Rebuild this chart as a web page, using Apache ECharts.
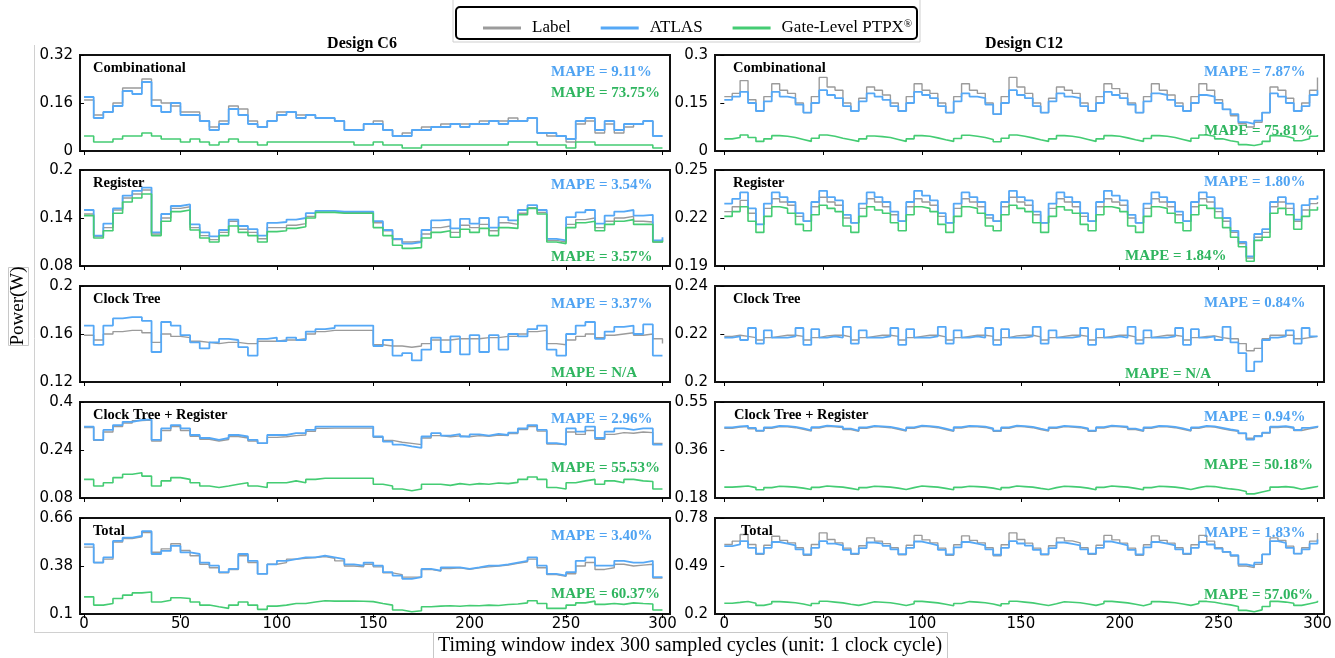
<!DOCTYPE html>
<html><head><meta charset="utf-8">
<script src="https://cdn.jsdelivr.net/npm/echarts/dist/echarts.min.js"></script>
<style>html,body{margin:0;padding:0;background:#fff}#c{width:1335px;height:658px}</style>
</head><body><div id="c"></div>
<script>
// ---------------- DATA ----------------
const xTickValues = [0, 50, 100, 150, 200, 250, 300];
const c6Step = 5;   // C6 values read every 5 cycles
const c12Step = 4;  // C12 values read every 4 cycles

// Design C6 – Combinational
const c6CombLabel = [0.17,0.12,0.13,0.16,0.21,0.21,0.24,0.17,0.16,0.15,0.13,0.13,0.10,0.08,0.10,0.15,0.14,0.10,0.08,0.10,0.13,0.13,0.12,0.12,0.11,0.11,0.10,0.07,0.07,0.09,0.10,0.07,0.05,0.06,0.07,0.08,0.08,0.09,0.09,0.09,0.09,0.10,0.10,0.10,0.11,0.10,0.11,0.06,0.05,0.05,0.03,0.09,0.10,0.06,0.09,0.06,0.08,0.09,0.10,0.05,0.05];
const c6CombAtlas = [0.18,0.11,0.13,0.15,0.20,0.19,0.23,0.15,0.13,0.16,0.12,0.12,0.10,0.07,0.09,0.14,0.12,0.09,0.08,0.10,0.12,0.13,0.11,0.12,0.11,0.11,0.10,0.07,0.07,0.09,0.09,0.07,0.05,0.05,0.07,0.07,0.08,0.08,0.09,0.08,0.09,0.09,0.10,0.09,0.10,0.10,0.11,0.06,0.06,0.05,0.04,0.10,0.11,0.07,0.10,0.07,0.09,0.09,0.10,0.05,0.05];
const c6CombPtpx  = [0.05,0.03,0.03,0.04,0.05,0.05,0.06,0.05,0.04,0.04,0.03,0.04,0.03,0.02,0.03,0.04,0.03,0.03,0.02,0.03,0.03,0.03,0.03,0.03,0.03,0.03,0.03,0.03,0.02,0.02,0.03,0.02,0.02,0.01,0.01,0.02,0.02,0.02,0.02,0.02,0.02,0.02,0.02,0.02,0.03,0.03,0.03,0.02,0.02,0.02,0.01,0.03,0.03,0.02,0.02,0.02,0.02,0.02,0.02,0.01,0.01];
// Design C6 – Register
const c6RegLabel = [0.145,0.117,0.128,0.150,0.165,0.170,0.175,0.120,0.140,0.152,0.154,0.128,0.118,0.113,0.122,0.136,0.126,0.122,0.114,0.128,0.128,0.131,0.133,0.142,0.147,0.147,0.147,0.147,0.147,0.147,0.134,0.124,0.113,0.110,0.111,0.120,0.128,0.130,0.122,0.131,0.128,0.132,0.124,0.134,0.132,0.146,0.153,0.147,0.112,0.110,0.132,0.138,0.140,0.128,0.136,0.140,0.142,0.136,0.135,0.110,0.113];
const c6RegAtlas = [0.150,0.118,0.133,0.152,0.168,0.174,0.178,0.122,0.145,0.155,0.157,0.132,0.122,0.117,0.125,0.138,0.130,0.126,0.118,0.134,0.135,0.138,0.140,0.146,0.149,0.149,0.148,0.148,0.148,0.148,0.136,0.125,0.114,0.108,0.110,0.125,0.137,0.138,0.127,0.139,0.133,0.140,0.128,0.141,0.137,0.150,0.156,0.150,0.114,0.112,0.141,0.147,0.150,0.133,0.143,0.148,0.150,0.143,0.144,0.112,0.116];
const c6RegPtpx  = [0.143,0.115,0.124,0.146,0.160,0.165,0.170,0.118,0.136,0.148,0.150,0.125,0.115,0.110,0.118,0.130,0.122,0.118,0.110,0.123,0.124,0.127,0.129,0.140,0.147,0.147,0.146,0.146,0.146,0.146,0.128,0.118,0.106,0.102,0.103,0.115,0.122,0.124,0.116,0.126,0.122,0.127,0.118,0.128,0.127,0.144,0.152,0.145,0.110,0.108,0.128,0.134,0.136,0.124,0.132,0.136,0.138,0.132,0.132,0.110,0.112];
// Design C6 – Clock Tree (no PTPX)
const c6ClkLabel = [0.159,0.155,0.160,0.162,0.163,0.163,0.161,0.153,0.160,0.158,0.157,0.154,0.153,0.152,0.153,0.153,0.152,0.152,0.154,0.154,0.155,0.155,0.156,0.160,0.162,0.163,0.163,0.163,0.163,0.163,0.151,0.150,0.150,0.149,0.150,0.152,0.155,0.155,0.156,0.156,0.156,0.157,0.157,0.158,0.158,0.160,0.162,0.163,0.152,0.151,0.155,0.158,0.160,0.157,0.159,0.160,0.161,0.159,0.160,0.156,0.152];
const c6ClkAtlas = [0.167,0.151,0.167,0.173,0.174,0.174,0.171,0.145,0.170,0.167,0.159,0.153,0.148,0.153,0.156,0.155,0.149,0.142,0.156,0.157,0.154,0.157,0.155,0.162,0.164,0.165,0.167,0.167,0.167,0.167,0.150,0.155,0.142,0.144,0.138,0.147,0.157,0.145,0.158,0.143,0.159,0.145,0.159,0.147,0.160,0.158,0.164,0.167,0.147,0.142,0.160,0.167,0.170,0.156,0.162,0.166,0.167,0.160,0.168,0.142,0.142];
// Design C6 – Clock Tree + Register
const c6CtrLabel = [0.315,0.272,0.300,0.318,0.330,0.338,0.340,0.270,0.305,0.318,0.305,0.286,0.276,0.270,0.275,0.285,0.280,0.270,0.262,0.282,0.284,0.288,0.290,0.302,0.312,0.313,0.313,0.313,0.313,0.313,0.282,0.272,0.266,0.262,0.258,0.280,0.288,0.284,0.287,0.284,0.288,0.286,0.290,0.288,0.295,0.308,0.318,0.303,0.260,0.258,0.300,0.292,0.305,0.276,0.292,0.298,0.296,0.300,0.298,0.262,0.262];
const c6CtrAtlas = [0.318,0.274,0.307,0.323,0.334,0.340,0.342,0.274,0.312,0.323,0.312,0.290,0.280,0.274,0.280,0.290,0.285,0.274,0.263,0.290,0.290,0.296,0.296,0.307,0.318,0.318,0.318,0.318,0.318,0.318,0.285,0.268,0.258,0.252,0.247,0.285,0.296,0.288,0.293,0.285,0.292,0.288,0.294,0.290,0.298,0.312,0.323,0.307,0.263,0.258,0.312,0.301,0.318,0.280,0.301,0.312,0.307,0.312,0.312,0.258,0.260];
const c6CtrPtpx  = [0.142,0.120,0.131,0.148,0.159,0.164,0.153,0.120,0.137,0.148,0.142,0.131,0.120,0.115,0.120,0.126,0.131,0.120,0.115,0.131,0.131,0.137,0.131,0.142,0.146,0.146,0.146,0.146,0.146,0.146,0.126,0.120,0.110,0.104,0.110,0.126,0.126,0.122,0.128,0.124,0.128,0.126,0.130,0.128,0.132,0.142,0.150,0.142,0.115,0.110,0.131,0.137,0.142,0.126,0.137,0.131,0.142,0.137,0.135,0.110,0.110];
// Design C6 – Total
const c6TotLabel = [0.49,0.40,0.42,0.52,0.54,0.55,0.575,0.46,0.48,0.51,0.47,0.44,0.39,0.37,0.34,0.36,0.44,0.40,0.335,0.39,0.40,0.42,0.425,0.43,0.435,0.425,0.41,0.38,0.375,0.39,0.375,0.34,0.33,0.315,0.315,0.36,0.35,0.365,0.37,0.36,0.37,0.375,0.38,0.385,0.395,0.405,0.42,0.37,0.33,0.32,0.335,0.38,0.40,0.36,0.37,0.39,0.38,0.385,0.39,0.31,0.31];
const c6TotAtlas = [0.507,0.40,0.43,0.526,0.545,0.555,0.583,0.45,0.468,0.497,0.459,0.45,0.40,0.382,0.344,0.363,0.45,0.41,0.334,0.39,0.41,0.42,0.43,0.43,0.44,0.43,0.42,0.39,0.382,0.40,0.382,0.344,0.324,0.305,0.315,0.363,0.353,0.372,0.372,0.363,0.372,0.382,0.382,0.39,0.40,0.41,0.43,0.382,0.334,0.324,0.344,0.41,0.43,0.382,0.382,0.41,0.40,0.40,0.41,0.315,0.315];
const c6TotPtpx  = [0.20,0.152,0.161,0.19,0.21,0.223,0.228,0.17,0.18,0.195,0.19,0.17,0.152,0.142,0.133,0.152,0.17,0.152,0.127,0.146,0.152,0.161,0.161,0.17,0.177,0.175,0.175,0.175,0.174,0.172,0.161,0.152,0.123,0.113,0.119,0.142,0.146,0.148,0.145,0.150,0.148,0.152,0.150,0.155,0.158,0.165,0.177,0.161,0.133,0.133,0.152,0.165,0.175,0.156,0.161,0.156,0.165,0.161,0.158,0.123,0.123];

// Design C12 – Combinational
const c12CombLabel = [0.170,0.180,0.220,0.160,
0.125,0.170,0.210,0.190,0.180,0.150, 0.120,0.170,0.230,0.200,0.190,0.150, 0.125,0.165,0.200,0.190,0.175,0.150,
0.125,0.170,0.210,0.190,0.180,0.150, 0.120,0.170,0.210,0.190,0.180,0.150, 0.115,0.170,0.230,0.200,0.180,0.150,
0.120,0.165,0.200,0.190,0.180,0.150, 0.125,0.170,0.210,0.195,0.180,0.150, 0.120,0.170,0.210,0.190,0.175,0.150,
0.125,0.170,0.210,0.190,0.160,0.130, 0.110,0.085,0.075,0.090,0.120,0.200, 0.190,0.165,0.125,0.150,0.190,0.230];
const c12CombAtlas = [0.160,0.170,0.185,0.150,
0.125,0.155,0.185,0.170,0.165,0.145, 0.120,0.150,0.190,0.175,0.165,0.140, 0.125,0.155,0.180,0.170,0.160,0.140,
0.125,0.150,0.185,0.175,0.165,0.140, 0.120,0.155,0.180,0.170,0.165,0.145, 0.115,0.150,0.190,0.175,0.165,0.140,
0.120,0.155,0.180,0.170,0.165,0.140, 0.125,0.150,0.185,0.175,0.165,0.145, 0.120,0.155,0.180,0.175,0.160,0.140,
0.125,0.150,0.175,0.170,0.150,0.130, 0.115,0.090,0.085,0.095,0.120,0.180, 0.170,0.150,0.125,0.140,0.175,0.190];
const c12CombPtpx = [0.038,0.042,0.050,0.042,
0.030,0.038,0.048,0.046,0.042,0.036, 0.030,0.040,0.050,0.046,0.040,0.035, 0.030,0.038,0.047,0.045,0.042,0.036,
0.030,0.038,0.048,0.046,0.041,0.035, 0.030,0.039,0.049,0.046,0.042,0.036, 0.029,0.040,0.050,0.046,0.041,0.035,
0.030,0.038,0.048,0.046,0.042,0.036, 0.030,0.038,0.048,0.046,0.041,0.035, 0.030,0.039,0.048,0.046,0.042,0.036,
0.030,0.040,0.050,0.046,0.038,0.032, 0.028,0.020,0.017,0.022,0.030,0.048, 0.046,0.040,0.032,0.038,0.046,0.050];
// Design C12 – Register
const c12RegLabel = [0.224,0.227,0.231,0.223,
0.216,0.226,0.232,0.230,0.228,0.221, 0.218,0.227,0.233,0.230,0.228,0.220, 0.217,0.226,0.232,0.230,0.227,0.222,
0.218,0.227,0.232,0.230,0.228,0.221, 0.217,0.226,0.232,0.230,0.227,0.220, 0.218,0.227,0.233,0.230,0.228,0.222,
0.217,0.226,0.232,0.230,0.227,0.221, 0.218,0.227,0.232,0.230,0.228,0.220, 0.217,0.226,0.232,0.230,0.227,0.222,
0.218,0.227,0.232,0.230,0.224,0.218, 0.211,0.204,0.195,0.208,0.211,0.227, 0.230,0.226,0.218,0.225,0.229,0.230];
const c12RegAtlas = [0.229,0.232,0.236,0.226,
0.216,0.229,0.236,0.233,0.230,0.223, 0.218,0.230,0.237,0.233,0.231,0.222, 0.217,0.229,0.236,0.233,0.230,0.224,
0.218,0.230,0.237,0.234,0.231,0.223, 0.217,0.229,0.236,0.233,0.230,0.222, 0.218,0.230,0.237,0.233,0.231,0.224,
0.217,0.229,0.236,0.233,0.230,0.223, 0.218,0.230,0.237,0.234,0.231,0.222, 0.217,0.229,0.236,0.233,0.230,0.224,
0.218,0.230,0.236,0.233,0.226,0.220, 0.212,0.205,0.196,0.210,0.213,0.230, 0.233,0.229,0.219,0.228,0.232,0.234];
const c12RegPtpx = [0.221,0.224,0.227,0.218,
0.211,0.221,0.227,0.226,0.223,0.216, 0.212,0.222,0.228,0.226,0.224,0.215, 0.211,0.221,0.227,0.225,0.223,0.217,
0.212,0.222,0.227,0.226,0.224,0.216, 0.211,0.221,0.227,0.226,0.223,0.215, 0.212,0.222,0.228,0.226,0.224,0.217,
0.211,0.221,0.227,0.225,0.223,0.216, 0.212,0.222,0.227,0.226,0.224,0.215, 0.211,0.221,0.227,0.226,0.223,0.217,
0.212,0.222,0.228,0.226,0.220,0.214, 0.208,0.202,0.193,0.206,0.208,0.223, 0.226,0.222,0.213,0.221,0.225,0.227];
// Design C12 – Clock Tree (no PTPX)
const c12ClkLabel = [0.2190,0.2195,0.2190,0.2185,
0.2175,0.2185,0.2190,0.2195,0.2195,0.2190, 0.2175,0.2185,0.2192,0.2195,0.2195,0.2188, 0.2175,0.2185,0.2190,0.2195,0.2195,0.2190,
0.2175,0.2185,0.2190,0.2195,0.2195,0.2188, 0.2175,0.2185,0.2190,0.2195,0.2195,0.2190, 0.2175,0.2185,0.2192,0.2195,0.2195,0.2188,
0.2175,0.2185,0.2190,0.2195,0.2195,0.2190, 0.2175,0.2185,0.2190,0.2195,0.2195,0.2188, 0.2175,0.2185,0.2190,0.2195,0.2195,0.2190,
0.2175,0.2185,0.2190,0.2192,0.2185,0.2180, 0.2180,0.2160,0.2130,0.2140,0.2180,0.2195, 0.2195,0.2195,0.2180,0.2185,0.2190,0.2190];
const c12ClkAtlas = [0.2185,0.2190,0.2175,0.2225,
0.2160,0.2215,0.2185,0.2185,0.2190,0.2225, 0.2155,0.2220,0.2185,0.2190,0.2185,0.2230, 0.2160,0.2215,0.2185,0.2185,0.2190,0.2225,
0.2155,0.2220,0.2185,0.2185,0.2190,0.2230, 0.2160,0.2215,0.2185,0.2190,0.2185,0.2225, 0.2155,0.2220,0.2185,0.2185,0.2190,0.2230,
0.2160,0.2215,0.2185,0.2185,0.2190,0.2225, 0.2155,0.2220,0.2185,0.2190,0.2185,0.2230, 0.2160,0.2215,0.2185,0.2185,0.2190,0.2225,
0.2155,0.2220,0.2185,0.2190,0.2175,0.2230, 0.2165,0.2120,0.2045,0.2085,0.2175,0.2185, 0.2190,0.2215,0.2160,0.2225,0.2190,0.2190];
// Design C12 – Clock Tree + Register
const c12CtrLabel = [0.449,0.453,0.455,0.447,
0.438,0.449,0.455,0.454,0.451,0.445, 0.438,0.450,0.456,0.454,0.452,0.444, 0.437,0.449,0.455,0.453,0.451,0.445,
0.438,0.449,0.456,0.454,0.451,0.444, 0.437,0.450,0.455,0.454,0.452,0.445, 0.437,0.449,0.456,0.454,0.451,0.444,
0.438,0.449,0.455,0.453,0.451,0.445, 0.437,0.450,0.456,0.454,0.452,0.444, 0.437,0.449,0.455,0.454,0.451,0.445,
0.438,0.449,0.455,0.453,0.447,0.441, 0.437,0.428,0.410,0.420,0.430,0.452, 0.454,0.449,0.440,0.447,0.452,0.455];
const c12CtrAtlas = [0.452,0.456,0.458,0.450,
0.440,0.452,0.458,0.457,0.454,0.448, 0.441,0.453,0.459,0.457,0.455,0.447, 0.440,0.452,0.458,0.456,0.454,0.448,
0.441,0.452,0.459,0.457,0.454,0.447, 0.440,0.453,0.458,0.457,0.455,0.448, 0.440,0.452,0.459,0.457,0.454,0.447,
0.441,0.452,0.458,0.456,0.454,0.448, 0.440,0.453,0.459,0.457,0.455,0.447, 0.440,0.452,0.458,0.457,0.454,0.448,
0.441,0.452,0.458,0.456,0.450,0.444, 0.440,0.430,0.405,0.418,0.432,0.455, 0.457,0.452,0.442,0.450,0.455,0.458];
const c12CtrPtpx = [0.222,0.224,0.226,0.220,
0.212,0.220,0.225,0.224,0.222,0.218, 0.213,0.221,0.226,0.224,0.222,0.217, 0.212,0.220,0.225,0.224,0.222,0.218,
0.213,0.220,0.226,0.224,0.222,0.217, 0.212,0.221,0.225,0.224,0.222,0.218, 0.212,0.220,0.226,0.224,0.222,0.217,
0.213,0.220,0.225,0.224,0.222,0.218, 0.212,0.221,0.226,0.224,0.222,0.217, 0.212,0.220,0.225,0.224,0.222,0.218,
0.213,0.220,0.225,0.224,0.219,0.215, 0.212,0.205,0.196,0.203,0.210,0.222, 0.224,0.221,0.214,0.219,0.224,0.227];
// Design C12 – Total
const c12TotLabel = [0.620,0.640,0.680,0.620,
0.560,0.615,0.670,0.645,0.630,0.600, 0.555,0.620,0.690,0.650,0.630,0.598, 0.560,0.612,0.660,0.640,0.625,0.600,
0.558,0.615,0.675,0.648,0.630,0.598, 0.555,0.618,0.672,0.645,0.630,0.600, 0.552,0.618,0.690,0.650,0.628,0.598,
0.558,0.612,0.660,0.642,0.630,0.600, 0.560,0.615,0.675,0.648,0.628,0.598, 0.555,0.618,0.672,0.645,0.628,0.600,
0.560,0.618,0.675,0.640,0.600,0.575, 0.550,0.490,0.480,0.500,0.560,0.660, 0.645,0.610,0.565,0.600,0.640,0.690];
const c12TotAtlas = [0.610,0.620,0.640,0.600,
0.565,0.600,0.635,0.625,0.615,0.590, 0.560,0.600,0.640,0.625,0.615,0.588, 0.565,0.598,0.632,0.625,0.612,0.590,
0.562,0.600,0.638,0.626,0.615,0.588, 0.560,0.602,0.635,0.625,0.615,0.590, 0.558,0.600,0.640,0.626,0.613,0.588,
0.562,0.598,0.632,0.624,0.615,0.590, 0.565,0.600,0.638,0.626,0.614,0.588, 0.560,0.602,0.635,0.625,0.615,0.590,
0.565,0.600,0.635,0.620,0.595,0.575, 0.555,0.500,0.490,0.510,0.560,0.640, 0.630,0.600,0.565,0.590,0.625,0.650];
const c12TotPtpx = [0.265,0.270,0.276,0.265,
0.252,0.262,0.275,0.272,0.268,0.260, 0.250,0.263,0.277,0.272,0.267,0.259, 0.252,0.262,0.274,0.271,0.268,0.260,
0.251,0.262,0.276,0.272,0.267,0.259, 0.250,0.263,0.275,0.272,0.268,0.260, 0.249,0.262,0.277,0.272,0.267,0.259,
0.251,0.262,0.274,0.271,0.268,0.260, 0.252,0.263,0.276,0.272,0.267,0.259, 0.250,0.262,0.275,0.272,0.268,0.260,
0.252,0.263,0.276,0.271,0.262,0.255, 0.245,0.222,0.214,0.225,0.245,0.276, 0.272,0.265,0.252,0.262,0.272,0.280];

// y-axis ranges, tick values and tick labels
const c6YRanges  = [[0,0.32],[0.08,0.2],[0.12,0.2],[0.08,0.4],[0.1,0.66]];
const c6YTicks   = [[0,0.16,0.32],[0.08,0.14,0.2],[0.12,0.16,0.2],[0.08,0.24,0.4],[0.1,0.38,0.66]];
const c6YLabels  = [['0','0.16','0.32'],['0.08','0.14','0.2'],['0.12','0.16','0.2'],['0.08','0.24','0.4'],['0.1','0.38','0.66']];
const c12YRanges = [[0,0.3],[0.19,0.25],[0.2,0.24],[0.18,0.55],[0.2,0.78]];
const c12YTicks  = [[0,0.15,0.3],[0.19,0.22,0.25],[0.2,0.22,0.24],[0.18,0.365,0.55],[0.2,0.49,0.78]];
const c12YLabels = [['0','0.15','0.3'],['0.19','0.22','0.25'],['0.2','0.22','0.24'],['0.18','0.36','0.55'],['0.2','0.49','0.78']];

const panelNames = ['Combinational','Register','Clock Tree','Clock Tree + Register','Total'];
const c6MapeAtlas  = ['MAPE = 9.11%','MAPE = 3.54%','MAPE = 3.37%','MAPE = 2.96%','MAPE = 3.40%'];
const c6MapePtpx   = ['MAPE = 73.75%','MAPE = 3.57%','MAPE = N/A','MAPE = 55.53%','MAPE = 60.37%'];
const c12MapeAtlas = ['MAPE = 7.87%','MAPE = 1.80%','MAPE = 0.84%','MAPE = 0.94%','MAPE = 1.83%'];
const c12MapePtpx  = ['MAPE = 75.81%','MAPE = 1.84%','MAPE = N/A','MAPE = 50.18%','MAPE = 57.06%'];

// ---------------- LAYOUT / STYLE ----------------
const COL = {label:'#9b9b9b', atlas:'#55a8f6', ptpx:'#44cc73', txtA:'#4fa3f2', txtP:'#2fb55f'};
const SERIF = '"Liberation Serif","Times New Roman",serif';
const SANS = '"DejaVu Sans",sans-serif';
const cols = [
  {left:80, width:590, xMin:-2.1, xMax:303.9, labelDx:[13,13,13,13,13], mapeX:[551,551,551,551,551], mapePX:[551,551,551,551,551],
   mapeAY:[72,185,304,419,536], mapePY:[93,257,373,468,594]},
  {left:715, width:609, xMin:-4.7, xMax:303.3, labelDx:[18,18,18,19,26], mapeX:[1204,1204,1204,1204,1204], mapePX:[1204,1125,1125,1204,1204],
   mapeAY:[72,182,303,417,533], mapePY:[131,256,374,465,595]}
];
const rowTop = [55,170,286,402,518];
const rowH = 96;

const designs = [
  {step:c6Step, ranges:c6YRanges, ticks:c6YTicks, labels:c6YLabels, mA:c6MapeAtlas, mP:c6MapePtpx,
   data:[[c6CombLabel,c6CombAtlas,c6CombPtpx],[c6RegLabel,c6RegAtlas,c6RegPtpx],[c6ClkLabel,c6ClkAtlas,null],[c6CtrLabel,c6CtrAtlas,c6CtrPtpx],[c6TotLabel,c6TotAtlas,c6TotPtpx]]},
  {step:c12Step, ranges:c12YRanges, ticks:c12YTicks, labels:c12YLabels, mA:c12MapeAtlas, mP:c12MapePtpx,
   data:[[c12CombLabel,c12CombAtlas,c12CombPtpx],[c12RegLabel,c12RegAtlas,c12RegPtpx],[c12ClkLabel,c12ClkAtlas,null],[c12CtrLabel,c12CtrAtlas,c12CtrPtpx],[c12TotLabel,c12TotAtlas,c12TotPtpx]]}
];

const grid = [], xAxis = [], yAxis = [], series = [], graphic = [];
const names = ['Label','ATLAS','Gate-Level PTPX®'];
const colors = [COL.label, COL.atlas, COL.ptpx];
const widths = [1.4, 1.8, 1.6];

designs.forEach((d, ci) => {
  const c = cols[ci];
  for (let r = 0; r < 5; r++) {
    const k = grid.length;
    grid.push({left:c.left, top:rowTop[r], width:c.width, height:rowH, show:true, borderColor:'#111', borderWidth:2, backgroundColor:'#fff'});
    xAxis.push({type:'value', gridIndex:k, min:c.xMin, max:c.xMax,
      axisLine:{show:false}, splitLine:{show:false},
      axisTick:{show:true, length:4, customValues:xTickValues, lineStyle:{color:'#000', width:1}},
      axisLabel:{show:r===4, customValues:xTickValues, fontFamily:SANS, fontSize:15, color:'#000', margin:3}});
    const tv = d.ticks[r], tl = d.labels[r];
    yAxis.push({type:'value', gridIndex:k, min:d.ranges[r][0], max:d.ranges[r][1],
      axisLine:{show:false}, splitLine:{show:false},
      axisTick:{show:true, length:4, customValues:tv, lineStyle:{color:'#000', width:1}},
      axisLabel:{customValues:tv, fontFamily:SANS, fontSize:15, color:'#000', margin:7,
        formatter:(v)=>{let bi=0;tv.forEach((t,i)=>{if(Math.abs(t-v)<Math.abs(tv[bi]-v))bi=i;});return tl[bi];}}});
    d.data[r].forEach((arr, si) => {
      if (!arr) return;
      series.push({type:'line', name:names[si], xAxisIndex:k, yAxisIndex:k, step:'end', symbol:'none', showSymbol:false,
        data:arr.map((v,i)=>[i*d.step, v]), lineStyle:{color:colors[si], width:widths[si]}, itemStyle:{color:colors[si]},
        z:2+si, silent:true, animation:false, clip:true});
    });
    // panel label
    graphic.push({type:'text', left:null, x:c.left + c.labelDx[r], y:rowTop[r] + 13, z:100,
      style:{text:panelNames[r], font:'bold 14.5px ' + SERIF, fill:'#000', verticalAlign:'middle', align:'left'}});
    graphic.push({type:'text', x:c.mapeX[r], y:c.mapeAY[r], z:100,
      style:{text:d.mA[r], font:'bold 15px ' + SERIF, fill:COL.txtA, verticalAlign:'middle', align:'left'}});
    graphic.push({type:'text', x:c.mapePX[r], y:c.mapePY[r], z:100,
      style:{text:d.mP[r], font:'bold 15px ' + SERIF, fill:COL.txtP, verticalAlign:'middle', align:'left'}});
  }
});

// titles, axis names, boxes
graphic.push(
  {type:'text', x:362, y:44, style:{text:'Design C6', font:'bold 16px ' + SERIF, fill:'#000', align:'center', verticalAlign:'middle'}},
  {type:'text', x:1024, y:44, style:{text:'Design C12', font:'bold 16px ' + SERIF, fill:'#000', align:'center', verticalAlign:'middle'}},
  {type:'rect', shape:{x:453, y:-2, width:467, height:44}, style:{fill:'none', stroke:'#cfcfcf', lineWidth:1}},
  {type:'rect', shape:{x:456, y:7, width:461, height:32, r:4}, style:{fill:'#fff', stroke:'#000', lineWidth:2}, z:50},
  {type:'line', shape:{x1:34.5, y1:45, x2:34.5, y2:632}, style:{stroke:'#d0d0d0', lineWidth:1}},
  {type:'line', shape:{x1:34, y1:632.5, x2:433, y2:632.5}, style:{stroke:'#d0d0d0', lineWidth:1}},
  {type:'rect', shape:{x:433.5, y:632.5, width:514, height:30}, style:{fill:'#fff', stroke:'#c8c8c8', lineWidth:1}},
  {type:'text', x:690, y:646, style:{text:'Timing window index 300 sampled cycles (unit: 1 clock cycle)', font:'20px ' + SERIF, fill:'#000', align:'center', verticalAlign:'middle'}},
  {type:'rect', shape:{x:8.5, y:267.5, width:20, height:78}, style:{fill:'#fff', stroke:'#c8c8c8', lineWidth:1}},
  {type:'text', x:18, y:306, rotation:Math.PI/2, style:{text:'Power(W)', font:'19px ' + SERIF, fill:'#000', align:'center', verticalAlign:'middle'}}
);

const chart = echarts.init(document.getElementById('c'), null, {renderer:'canvas'});
chart.setOption({
  animation:false,
  backgroundColor:'#fff',
  grid, xAxis, yAxis, series, graphic,
  legend:{data:names, left:478, top:14, itemWidth:38, itemHeight:3, icon:'rect', itemGap:30, z:60,
    formatter:(n)=> n==='Gate-Level PTPX®' ? 'Gate-Level PTPX{s|®}' : n,
    textStyle:{fontFamily:SERIF, fontSize:17, color:'#000', padding:[0,0,0,6],
      rich:{s:{fontFamily:SERIF, fontSize:11, verticalAlign:'top', padding:[0,0,7,0]}}}}
});
</script></body></html>
